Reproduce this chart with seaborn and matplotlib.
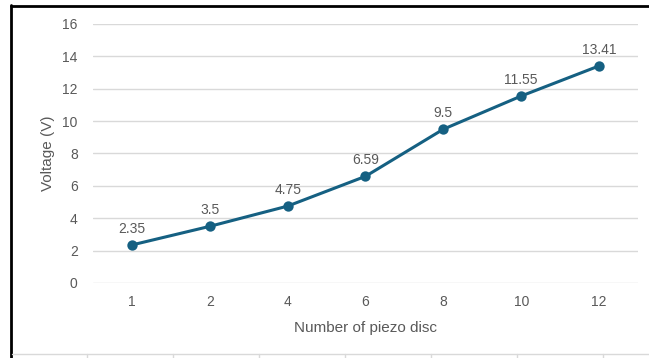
import pandas as pd
import seaborn as sns
import matplotlib
matplotlib.use('Agg')
import matplotlib.pyplot as plt
from matplotlib.lines import Line2D

# Data
discs = ["1", "2", "4", "6", "8", "10", "12"]
voltage = [2.35, 3.5, 4.75, 6.59, 9.5, 11.55, 13.41]
labels = ["2.35", "3.5", "4.75", "6.59", "9.5", "11.55", "13.41"]
y_ticks = [0, 2, 4, 6, 8, 10, 12, 14, 16]

line_color = "#156082"
text_color = "#595959"
grid_color = "#d9d9d9"

sns.set_style("white")
plt.rcParams['font.family'] = ['Liberation Sans', 'DejaVu Sans']

df = pd.DataFrame({"disc": discs, "voltage": voltage})

fig = plt.figure(figsize=(6.49, 3.58), dpi=100)
ax = fig.add_axes([0.1433, 0.2095, 0.8397, 0.7235])

sns.pointplot(data=df, x="disc", y="voltage", order=discs, color=line_color,
              markers="o", markersize=5.8, linewidth=2.2, ax=ax)

# data labels
for i, (v, lab) in enumerate(zip(voltage, labels)):
    ax.annotate(lab, (i, v), xytext=(0, 6.5), textcoords="offset points",
                ha="center", va="bottom", fontsize=10, color=text_color)

ax.set_ylim(0, 16)
ax.set_xlim(-0.5, len(discs) - 0.5)
ax.set_yticks(y_ticks)
ax.yaxis.grid(True, color=grid_color, linewidth=1)
ax.set_axisbelow(True)
for s in ax.spines.values():
    s.set_visible(False)
ax.tick_params(axis="both", length=0, labelsize=10, labelcolor=text_color)
ax.tick_params(axis="y", pad=11)
ax.tick_params(axis="x", pad=9)
ax.set_xlabel("Number of piezo disc", fontsize=11, color=text_color, labelpad=8)
ax.set_ylabel("Voltage (V)", fontsize=11, color=text_color, labelpad=5)

# black frame on top and left of the chart object
fig.add_artist(Line2D([10.5 / 649, 1.0], [1 - 5.5 / 358, 1 - 5.5 / 358],
                      transform=fig.transFigure, color="black", linewidth=2))
fig.add_artist(Line2D([11 / 649, 11 / 649], [1 - 5 / 358, 0],
                      transform=fig.transFigure, color="black", linewidth=2))

# spreadsheet cell lines below
yb = 1 - 354 / 358
fig.add_artist(Line2D([12 / 649, 1.0], [yb, yb], transform=fig.transFigure,
                      color=grid_color, linewidth=1))
for xc in [87, 173, 259, 345, 431, 517, 603]:
    fig.add_artist(Line2D([xc / 649, xc / 649], [yb, 0], transform=fig.transFigure,
                          color=grid_color, linewidth=1))

fig.savefig("out.png", dpi=100)
